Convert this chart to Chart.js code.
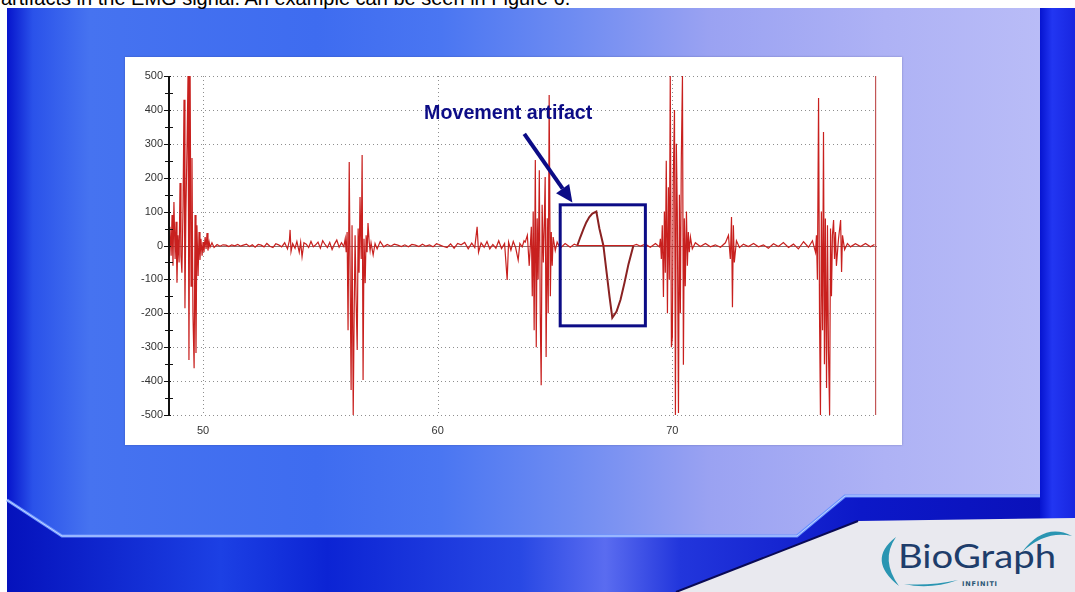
<!DOCTYPE html>
<html>
<head>
<meta charset="utf-8">
<title>EMG movement artifact</title>
<script src="https://cdn.jsdelivr.net/npm/chart.js@4.4.0/dist/chart.umd.min.js"></script>
<style>
    html, body {
        margin: 0;
        padding: 0;
        background: #fff;
    }
    #page {
        position: relative;
        width: 1075px;
        height: 592px;
        overflow: hidden;
        background: #fff;
    }
    #bg {
        position: absolute;
        left: 0;
        top: 0;
    }
    #intro {
        position: absolute;
        left: 1px;
        top: -12px;
        font: 20px/20px "Liberation Sans", Arial, sans-serif;
        color: #000;
        white-space: nowrap;
    }
    #panel {
        position: absolute;
        left: 125px;
        top: 57px;
        width: 777px;
        height: 388px;
        background: #fff;
        box-shadow: 0 0 2px rgba(40, 40, 90, 0.35);
    }
    #emg-chart {
        display: block;
    }
</style>
</head>
<body>
<div id="page">
    <svg id="bg" width="1075" height="592" viewBox="0 0 1075 592">
        <defs>
            <linearGradient id="face" x1="0" x2="1" y1="0" y2="0">
                <stop offset="0" stop-color="#0614cc"/>
                <stop offset="0.025" stop-color="#2a52ea"/>
                <stop offset="0.08" stop-color="#4673f0"/>
                <stop offset="0.3" stop-color="#3e6cf0"/>
                <stop offset="0.42" stop-color="#4a76f2"/>
                <stop offset="0.55" stop-color="#6f8cf2"/>
                <stop offset="0.68" stop-color="#9aa2f2"/>
                <stop offset="0.85" stop-color="#aeb2f5"/>
                <stop offset="1" stop-color="#b9bcf7"/>
            </linearGradient>
            <linearGradient id="band" x1="0" x2="1" y1="0" y2="0">
                <stop offset="0" stop-color="#0512bc"/>
                <stop offset="0.2" stop-color="#1c40e4"/>
                <stop offset="0.3" stop-color="#0c24d4"/>
                <stop offset="0.48" stop-color="#2848e4"/>
                <stop offset="0.56" stop-color="#5a6cf0"/>
                <stop offset="0.63" stop-color="#2236dc"/>
                <stop offset="0.8" stop-color="#0c18c8"/>
                <stop offset="1" stop-color="#0a10b8"/>
            </linearGradient>
            <linearGradient id="strip" x1="0" x2="1" y1="0" y2="0">
                <stop offset="0" stop-color="#0614d0"/>
                <stop offset="0.35" stop-color="#2236f2"/>
                <stop offset="1" stop-color="#1826e0"/>
            </linearGradient>
        </defs>
        <rect x="7" y="8" width="1068" height="584" fill="#0a14c4"/>
        <polygon points="7,8 1040,8 1040,495 845,495 797,535 62,535 7,500" fill="url(#face)"/>
        <polygon points="7,500 62,535 797,535 845,495 1040,495 1040,520 1075,520 1075,592 7,592" fill="url(#band)"/>
        <rect x="1040" y="8" width="35" height="512" fill="url(#strip)"/>
        <polyline points="7,500 62,536 797,536 845,496 1040,496" fill="none" stroke="#6f96ff" stroke-width="3"/>
        <polyline points="7,500 62,536 797,536 845,496 1040,496" fill="none" stroke="#c4d6ff" stroke-width="1"/>
        <polygon points="676,592 858,521 1075,518 1075,592" fill="#e9e9ef"/>
        <line x1="676" y1="592" x2="858" y2="521" stroke="#0a0a55" stroke-width="2"/>
        <!-- logo -->
        <path d="M 896 537 Q 866 560 899 586 Q 880 560 896 537 Z" fill="#2a95b2"/>
        <path d="M 1022 552 Q 1045 522 1072 536 Q 1046 530 1022 552 Z" fill="#2a95b2"/>
        <path d="M 904 584 Q 930 590 958 580 Q 930 586 904 584 Z" fill="#2a95b2"/>
        <text x="898" y="568" font-family="Lato, 'Open Sans', sans-serif" font-size="32" fill="#1e3d6b" textLength="158" lengthAdjust="spacingAndGlyphs">BioGraph</text>
        <text x="962" y="586" font-family="'DejaVu Sans', sans-serif" font-size="6.5" font-weight="bold" fill="#2a5574" letter-spacing="0.8">INFINITI</text>
    </svg>

    <div id="intro">artifacts in the EMG signal. An example can be seen in Figure 6.</div>

    <div id="panel">
        <canvas id="emg-chart" width="777" height="388"></canvas>
    </div>
</div>

<script>
// Axis ticks
const xTicks = [50, 60, 70];
const yTicks = [-500, -400, -300, -200, -100, 0, 100, 200, 300, 400, 500];
const yTickMarks = [-500, -450, -400, -350, -300, -250, -200, -150, -100, -50, 0,
    50, 100, 150, 200, 250, 300, 350, 400, 450, 500];

// EMG signal (seconds, microvolts)
const time = [
    // burst 1
    48.55, 48.59, 48.64, 48.68, 48.72, 48.76, 48.81, 48.85, 48.89, 48.93,
    48.98, 49.02, 49.06, 49.10, 49.15, 49.19, 49.23, 49.27, 49.32, 49.36,
    49.40, 49.45, 49.49, 49.53, 49.57, 49.62, 49.66, 49.70, 49.74, 49.79,
    49.83, 49.87, 49.91, 49.96, 50.00, 50.04, 50.09, 50.13, 50.17, 50.21,
    50.26, 50.30, 50.38, 50.47,
    // rest
    50.60, 50.72, 50.85, 50.98, 51.10, 51.22, 51.35, 51.48, 51.60, 51.72,
    51.85, 51.98, 52.10, 52.22, 52.35, 52.48, 52.60, 52.72, 52.85, 52.98,
    53.10, 53.22, 53.35, 53.48, 53.60, 53.68, 53.71, 53.75, 53.82, 53.92,
    54.00, 54.10, 54.16, 54.22, 54.30, 54.40, 54.50, 54.60, 54.70, 54.80,
    54.90, 55.00, 55.10, 55.20, 55.30, 55.40, 55.50, 55.60, 55.70, 55.80,
    55.90, 56.00,
    // burst 2
    56.06, 56.10, 56.14, 56.18, 56.23, 56.27, 56.31, 56.35, 56.40, 56.44,
    56.48, 56.52, 56.57, 56.61, 56.65, 56.69, 56.74, 56.78, 56.82, 56.86,
    56.91, 56.95, 56.99, 57.03, 57.08, 57.12, 57.16, 57.25, 57.33, 57.42,
    57.55,
    // rest
    57.70, 57.85, 58.00, 58.15, 58.30, 58.45, 58.60, 58.75, 58.90, 59.05,
    59.20, 59.35, 59.50, 59.65, 59.80, 59.95, 60.10, 60.25, 60.40, 60.55,
    60.70, 60.85, 61.00, 61.15, 61.30, 61.45, 61.58, 61.68, 61.74, 61.85,
    61.98, 62.10, 62.22, 62.35, 62.48, 62.60, 62.72, 62.85, 62.96, 63.02,
    63.12, 63.22, 63.32, 63.43, 63.50, 63.60, 63.68,
    // burst 3
    63.73, 63.82, 63.90, 63.99, 64.03, 64.07, 64.11, 64.16, 64.20, 64.24,
    64.28, 64.33, 64.37, 64.41, 64.45, 64.50, 64.54, 64.58, 64.62, 64.67,
    64.71, 64.75, 64.80, 64.84, 64.88, 64.92, 65.01, 65.09, 65.22, 65.43,
    65.65, 65.82, 65.95,
    // rest (after the artifact)
    68.34, 68.47, 68.64, 68.85, 69.06, 69.28, 69.45,
    // burst 4
    69.49, 69.53, 69.57, 69.62, 69.66, 69.70, 69.74, 69.79, 69.83, 69.87,
    69.91, 69.96, 70.00, 70.04, 70.09, 70.13, 70.17, 70.21, 70.26, 70.30,
    70.34, 70.38, 70.43, 70.47, 70.51, 70.55, 70.60, 70.64, 70.68, 70.72,
    70.77, 70.85, 70.98,
    // rest
    71.19, 71.41, 71.62, 71.83, 72.05, 72.26, 72.39, 72.47, 72.52, 72.56,
    72.60, 72.64, 72.73, 72.86, 73.03, 73.24, 73.46, 73.67, 73.88, 74.09,
    74.31, 74.52, 74.73, 74.95, 75.16, 75.37, 75.59, 75.80, 75.97, 76.10,
    // burst 5
    76.14, 76.18, 76.23, 76.27, 76.31, 76.35, 76.40, 76.44, 76.48, 76.52,
    76.57, 76.61, 76.65, 76.70, 76.74, 76.78, 76.82, 76.87, 76.91, 76.95,
    76.99, 77.08, 77.17, 77.21, 77.25, 77.34, 77.46, 77.59, 77.80, 78.02,
    78.23, 78.44, 78.61
];

const emg = [
    // burst 1
    0, 55, -30, 90, -60, 128, -40, 70, -110, 30,
    -50, 184, -30, -80, 120, 430, -185, 100, 300, 500,
    -338, 500, -120, 258, -200, -362, 90, -317, 60, -90,
    40, -43, 20, -30, 10, -20, 25, -10, 37, -15,
    10, -5, 8, -6,
    // rest
    3, -2, 2, 1, -3, 2, -1, 3, -2, 1,
    4, -3, 2, -5, 3, 1, -4, 6, -2, -6,
    5, 2, -4, 8, -10, 14, 46, -18, 6, -8,
    12, -20, 10, -33, 8, 4, -6, 12, -4, 2,
    10, -8, 14, 3, -6, 9, -12, 4, 16, -5,
    8, -3,
    // burst 2
    20, -20, 40, -250, 246, -100, -426, 60, -500, -200,
    30, -150, -308, 50, -80, 143, -40, 267, -397, 20,
    -111, 30, -20, 66, 10, -15, 8, -28, 6, -10,
    12,
    // rest
    -4, 3, -2, 4, 1, -3, 2, -4, 3, 1,
    -3, 4, -2, 2, -4, 5, 1, -3, -6, 5,
    -8, 6, 2, 9, -10, 7, -6, 55, -20, 8,
    -5, 12, -10, 3, -8, 14, -9, 6, -102, 10,
    -14, 12, -6, -43, 6, -4, 14,
    // burst 3
    10, 30, -60, 55, -150, 100, -250, 252, -300, 80,
    -100, 222, -200, -412, 120, -50, 60, 202, -329, 80,
    -200, 444, -150, 40, -60, 25, -15, 10, -8, 6,
    -5, 4, 0,
    // rest (after the artifact)
    0, 3, -2, 4, -5, 6, -4,
    // burst 4
    20, -40, 60, -152, 100, -80, 250, -200, 172, -100,
    500, -300, -270, 200, 400, -500, 300, 100, -494, 150,
    -200, 250, 500, -352, 80, -120, 100, -60, 40, -20,
    25, -10, 8,
    // rest
    -3, 6, -4, 2, -5, 8, 30, -40, 84, -182,
    60, -50, 14, -6, 4, -3, 6, -4, 2, -8,
    5, -3, 9, -6, 4, -10, 11, -5, 14, -20,
    // burst 5
    30, -100, 435, -200, -500, 100, -250, 335, -350, 80,
    -420, 60, -300, -500, 50, -150, 30, 75, -40, 40,
    -60, 20, 75, -78, 30, -12, 6, -4, 5, -3,
    6, -4, 3
];

// Slow movement artifact inside the marked box
const artifactTime = [65.95, 66.08, 66.21, 66.33, 66.46, 66.59, 66.76, 66.89, 67.06,
    67.19, 67.32, 67.44, 67.62, 67.79, 67.96, 68.13, 68.34];
const artifactValues = [0, 25, 48, 68, 84, 94, 100, 50, 0,
    -75, -150, -213, -195, -160, -110, -55, 0];

// End-of-record marker
const endTime = [78.66, 78.66];
const endValues = [500, -500];

// Annotation (data coordinates)
const artifactLabel = 'Movement artifact';
const labelSpan = { xStart: 59.42, xEnd: 66.59, y: 373 };
const artifactBox = { xMin: 65.22, xMax: 68.85, yMin: -237, yMax: 120 };
const arrowPath = { x1: 63.69, y1: 329, x2: 65.74, y2: 127 };

// Colors
const colors = {
    signal: '#c8201e',
    artifact: '#8a2222',
    endMarker: '#c25656',
    grid: '#8e8e8e',
    zeroLine: '#8c7070',
    axis: '#111',
    ticks: '#333',
    annotation: '#0c0c86'
};

const tickFont = { family: '"Liberation Sans", Arial, sans-serif', size: 11 };

// Helper: pair x and y arrays into points
function toPoints(xs, ys) {
    return xs.map((x, i) => ({ x: x, y: ys[i] }));
}

// Grid, zero line and y axis drawn off the scales
const emgGrid = {
    id: 'emgGrid',
    beforeDatasetsDraw(chart) {
        const { ctx, chartArea: area, scales: { x, y } } = chart;
        ctx.save();
        ctx.lineWidth = 1;
        yTicks.forEach(v => {
            const py = Math.round(y.getPixelForValue(v)) + 0.5;
            ctx.setLineDash(v === 0 ? [] : [1, 3]);
            ctx.strokeStyle = v === 0 ? colors.zeroLine : colors.grid;
            ctx.beginPath();
            ctx.moveTo(area.left, py);
            ctx.lineTo(area.right, py);
            ctx.stroke();
        });
        ctx.setLineDash([1, 3]);
        ctx.strokeStyle = colors.grid;
        xTicks.forEach(v => {
            const px = Math.round(x.getPixelForValue(v)) + 0.5;
            ctx.beginPath();
            ctx.moveTo(px, area.top);
            ctx.lineTo(px, area.bottom);
            ctx.stroke();
        });
        ctx.restore();
    },
    afterDatasetsDraw(chart) {
        const { ctx, chartArea: area, scales: { y } } = chart;
        const ax = Math.round(area.left);
        ctx.save();
        ctx.strokeStyle = colors.axis;
        ctx.lineWidth = 2;
        ctx.beginPath();
        ctx.moveTo(ax, y.getPixelForValue(500));
        ctx.lineTo(ax, y.getPixelForValue(-500));
        ctx.stroke();
        ctx.lineWidth = 1;
        yTickMarks.forEach(v => {
            const py = Math.round(y.getPixelForValue(v)) + 0.5;
            const major = v % 100 === 0;
            ctx.beginPath();
            ctx.moveTo(ax - (major ? 5 : 4), py);
            ctx.lineTo(ax + (major ? 2 : 4), py);
            ctx.stroke();
        });
        ctx.restore();
    }
};

// "Movement artifact" label, arrow and box
const artifactNote = {
    id: 'artifactNote',
    afterDraw(chart) {
        const { ctx, scales: { x, y } } = chart;
        ctx.save();
        ctx.strokeStyle = colors.annotation;
        ctx.fillStyle = colors.annotation;

        // box
        const bx1 = x.getPixelForValue(artifactBox.xMin);
        const bx2 = x.getPixelForValue(artifactBox.xMax);
        const by1 = y.getPixelForValue(artifactBox.yMax);
        const by2 = y.getPixelForValue(artifactBox.yMin);
        ctx.lineWidth = 3;
        ctx.strokeRect(bx1, by1, bx2 - bx1, by2 - by1);

        // arrow
        const ax1 = x.getPixelForValue(arrowPath.x1);
        const ay1 = y.getPixelForValue(arrowPath.y1);
        const ax2 = x.getPixelForValue(arrowPath.x2);
        const ay2 = y.getPixelForValue(arrowPath.y2);
        const angle = Math.atan2(ay2 - ay1, ax2 - ax1);
        const headLen = 17;
        const headHalf = 8;
        const baseX = ax2 - headLen * Math.cos(angle);
        const baseY = ay2 - headLen * Math.sin(angle);
        ctx.lineWidth = 4;
        ctx.beginPath();
        ctx.moveTo(ax1, ay1);
        ctx.lineTo(baseX, baseY);
        ctx.stroke();
        ctx.beginPath();
        ctx.moveTo(ax2, ay2);
        ctx.lineTo(baseX + headHalf * Math.sin(angle), baseY - headHalf * Math.cos(angle));
        ctx.lineTo(baseX - headHalf * Math.sin(angle), baseY + headHalf * Math.cos(angle));
        ctx.closePath();
        ctx.fill();

        // label, squeezed to the narrow bold face of the original
        const lx1 = x.getPixelForValue(labelSpan.xStart);
        const lx2 = x.getPixelForValue(labelSpan.xEnd);
        const ly = y.getPixelForValue(labelSpan.y);
        ctx.font = 'bold 21px "Liberation Sans Narrow", "Liberation Sans", Arial, sans-serif';
        ctx.textBaseline = 'alphabetic';
        const w = ctx.measureText(artifactLabel).width;
        ctx.translate(lx1, ly);
        ctx.scale((lx2 - lx1) / w, 1);
        ctx.fillText(artifactLabel, 0, 0);
        ctx.restore();
    }
};

// Build the chart
function init() {
    const ctx = document.getElementById('emg-chart').getContext('2d');

    new Chart(ctx, {
        type: 'line',
        data: {
            datasets: [
                {
                    label: 'EMG',
                    data: toPoints(time, emg),
                    borderColor: colors.signal,
                    borderWidth: 1.2
                },
                {
                    label: 'Artifact',
                    data: toPoints(artifactTime, artifactValues),
                    borderColor: colors.artifact,
                    borderWidth: 2
                },
                {
                    label: 'End',
                    data: toPoints(endTime, endValues),
                    borderColor: colors.endMarker,
                    borderWidth: 1.2
                }
            ]
        },
        options: {
            responsive: false,
            animation: false,
            layout: {
                padding: { top: 19, right: 25, bottom: 0, left: 0 }
            },
            elements: {
                point: { radius: 0 },
                line: { tension: 0 }
            },
            plugins: {
                legend: { display: false },
                tooltip: { enabled: false }
            },
            scales: {
                x: {
                    type: 'linear',
                    min: 48.55,
                    max: 78.72,
                    grid: { display: false, drawTicks: false },
                    border: { display: false },
                    afterBuildTicks: scale => {
                        scale.ticks = xTicks.map(v => ({ value: v }));
                    },
                    afterFit: scale => {
                        scale.height = 30;
                    },
                    ticks: {
                        padding: 9,
                        color: colors.ticks,
                        font: tickFont,
                        maxRotation: 0,
                        callback: v => String(v)
                    }
                },
                y: {
                    min: -500,
                    max: 500,
                    grid: { display: false, drawTicks: false },
                    border: { display: false },
                    afterBuildTicks: scale => {
                        scale.ticks = yTicks.map(v => ({ value: v }));
                    },
                    afterFit: scale => {
                        scale.width = 44;
                    },
                    ticks: {
                        padding: 6,
                        color: colors.ticks,
                        font: tickFont,
                        callback: v => String(v)
                    }
                }
            }
        },
        plugins: [emgGrid, artifactNote]
    });
}

document.addEventListener('DOMContentLoaded', init);
</script>
</body>
</html>
